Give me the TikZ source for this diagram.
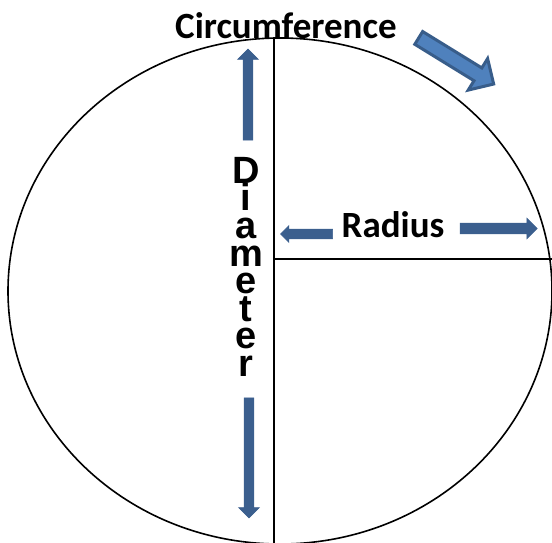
\documentclass[tikz,border=0pt]{standalone}
\usepackage{fontspec}
\setmainfont{Carlito}
\newfontfamily\arialfont{Liberation Sans}
\definecolor{arrowblue}{RGB}{59,95,142}
\definecolor{officeblue}{RGB}{79,129,189}
\definecolor{officeedge}{RGB}{56,93,138}
\usetikzlibrary{shapes.geometric,shapes.arrows,positioning}

\tikzset{
  outline/.style={line width=1.6pt, black},
  blockarrow/.style={single arrow, fill=arrowblue, draw=arrowblue, line width=0.6pt,
    inner sep=0pt, minimum width=0pt, single arrow tip angle=90, outer sep=0pt},
  label/.style={font=\fontsize{37}{42}\selectfont\bfseries, inner sep=0pt},
}

\begin{document}
\begin{tikzpicture}[x=1pt, y=-1pt]
  \useasboundingbox (0,0) rectangle (552,542);

  % the circle and its two lines
  \node[outline, draw, ellipse, minimum width=544pt, minimum height=506pt, inner sep=0pt] (circ) at (280,291) {};
  \coordinate (ctr) at (274,259);
  \draw[outline] (ctr |- circ.north) -- (ctr |- circ.south);
  \draw[outline] (ctr) -- (ctr -| circ.east);

  % labels
  \node[label, anchor=base] (circum) at (286,38) {Circumference};
  \node[label, anchor=base] (radius) at (393,237) {Radius};
  \node[font=\arialfont\fontsize{38}{27.6}\selectfont\bfseries, align=center, inner sep=0pt, anchor=north] (diam) at (246,157) {D\\i\\a\\m\\e\\t\\e\\r};

  % block arrows
  \node[blockarrow, rotate=90, minimum height=91pt, inner ysep=4.5pt, single arrow head extend=5.5pt] (upArr) at (248,97) {};
  \node[blockarrow, rotate=-90, minimum height=120pt, inner ysep=4.5pt, single arrow head extend=5.5pt] (downArr) at (249,455.5) {};
  \node[blockarrow, rotate=180, minimum height=52pt, inner ysep=4.5pt, single arrow head extend=3.5pt] (leftArr) at (309,234) {};
  \node[blockarrow, minimum height=77pt, inner ysep=5pt, single arrow head extend=5pt] (rightArr) at (496,228.5) {};
  \node[blockarrow, fill=officeblue, draw=officeedge, line width=3pt, rotate=-31.6, minimum height=88pt, inner ysep=6pt, single arrow head extend=11pt] (circArr) at (453,59) {};
\end{tikzpicture}
\end{document}
